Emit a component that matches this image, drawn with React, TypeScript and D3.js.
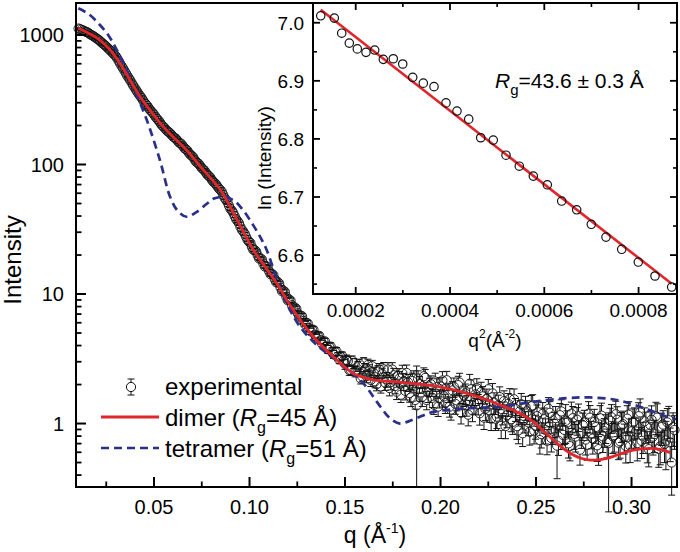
import React from 'react';
import * as d3 from 'd3';

// ---------- main plot data (two interleaved q grids) ----------
const Q_START = 0.0105;
const Q_STEP = 0.0015;
// intensities at q = Q_START + i*Q_STEP
const EXP_I_A = [
  1122, 1098, 1072, 1051, 1014, 985, 951, 918, 876, 841,
  801, 763, 722, 687, 631, 577, 531, 485, 448, 410,
  379, 350, 327, 301, 284, 263, 249, 231, 218, 202,
  192, 181, 174, 164, 158, 148, 143, 133, 128, 119,
  114, 105, 101, 93.8, 89.6, 83.1, 79.4, 73.6, 70.3, 65.2,
  61.6, 55.1, 51.0, 45.4, 42.3, 37.8, 35.2, 31.3, 29.2, 26.1,
  24.8, 21.9, 21.3, 18.8, 18.5, 16.3, 16.1, 14.2, 14.0, 12.3,
  12.1, 10.5, 10.4, 8.95, 8.91, 7.72, 7.70, 6.71, 6.75, 5.86,
  5.92, 5.15, 5.30, 4.62, 4.76, 4.14, 4.31, 3.74, 3.93, 3.42,
  3.61, 3.12, 3.33, 2.88, 3.03, 2.59, 2.92, 2.55, 2.88, 2.31,
  2.62, 2.83, 2.17, 2.45, 2.01, 2.62, 2.41, 2.07, 2.61, 2.09,
  2.36, 1.76, 2.23, 2.45, 1.79, 2.08, 1.59, 2.22, 1.38, 2.01,
  1.61, 2.25, 1.73, 2.01, 1.40, 1.91, 1.57, 2.15, 1.44, 1.75,
  1.28, 1.92, 1.51, 2.07, 1.38, 1.71, 1.17, 1.84, 1.44, 1.88,
  1.20, 1.62, 1.30, 1.84, 1.09, 1.45, 1.13, 1.60, 1.22, 0.955,
  1.42, 1.08, 1.54, 0.955, 1.24, 0.841, 1.34, 1.02, 1.36, 0.881,
  1.14, 0.745, 1.19, 0.891, 1.30, 0.773, 1.00, 0.675, 1.16, 0.818,
  1.05, 0.703, 1.19, 0.832, 1.07, 0.628, 0.971, 0.752, 1.19, 0.839,
  1.03, 0.679, 1.10, 0.796, 0.935, 0.708, 1.12, 0.813, 1.07, 0.730,
  0.989, 0.670, 1.17, 0.871, 1.04, 0.705, 1.22, 0.805, 0.964, 0.634,
  1.07, 0.828, 1.11, 0.667, 0.982, 0.740, 1.06, 0.50, 0.891,
];
// intensities at q = Q_START + (i + 0.5)*Q_STEP
const EXP_I_B = [
  1109, 1085, 1060, 1034, 998, 969, 933, 898, 857, 822,
  781, 743, 705, 659, 603, 554, 508, 466, 429, 394,
  364, 338, 313, 292, 273, 256, 240, 224, 210, 197,
  186, 178, 169, 161, 153, 146, 138, 131, 123, 117,
  109, 103, 97.2, 91.9, 86.1, 81.5, 76.2, 72.1, 67.5, 63.6,
  58.2, 53.3, 48.0, 44.1, 39.9, 36.6, 33.0, 30.4, 27.6, 25.3,
  23.1, 21.8, 19.9, 18.8, 17.2, 16.4, 15.0, 14.3, 13.0, 12.4,
  11.2, 10.6, 9.55, 9.05, 8.20, 7.85, 7.10, 6.80, 6.20, 6.00,
  5.45, 5.30, 4.85, 4.75, 4.40, 4.30, 3.95, 3.90, 3.60, 3.58,
  3.30, 3.28, 3.05, 3.10,
  2.59, 3.05, 2.52, 2.77, 2.22, 2.96, 2.32, 2.56, 2.77, 2.12,
  2.52, 1.93, 2.62, 2.19, 1.88, 2.61, 1.95, 2.35, 1.67, 2.12,
  2.46, 1.72, 2.13, 1.52, 2.22, 1.74, 2.32, 1.52, 1.93, 1.58,
  2.11, 1.35, 1.93, 1.62, 2.16, 1.35, 1.80, 1.42, 1.98, 1.21,
  1.65, 1.39, 2.03, 1.26, 1.68, 1.42, 1.75, 1.11, 1.55, 1.26,
  1.71, 1.09, 1.38, 0.957, 1.49, 1.16, 1.55, 1.03, 1.30, 0.883,
  1.41, 1.07, 1.24, 0.863, 1.38, 0.958, 1.22, 0.830, 1.08, 0.736,
  1.21, 0.881, 1.10, 0.737, 1.24, 0.894, 1.02, 0.669, 1.10, 0.793,
  1.14, 0.846, 1.02, 0.685, 1.11, 0.765, 0.939, 0.634, 1.15, 0.873,
  0.725, 1.05, 0.794, 1.18, 0.711, 0.964, 0.786, 1.09, 0.675, 1.02,
  0.868, 1.14, 0.735, 1.04, 0.681, 0.979, 0.793, 1.14, 0.638, 0.940,
  0.693, 1.02, 0.715, 0.937,
];
// relative error per 0.01 bin of q (bin 0 = 0.01..0.02)
const ERR_REL = [
  0.012, 0.012, 0.013, 0.014, 0.015, 0.016, 0.018, 0.02, 0.025, 0.03,
  0.035, 0.045, 0.055, 0.07, 0.09, 0.11, 0.13, 0.15, 0.16, 0.17,
  0.18, 0.19, 0.2, 0.21, 0.22, 0.23, 0.24, 0.25, 0.26, 0.27, 0.28, 0.29, 0.3,
];
// [index in EXP_I_A, absolute error]
const ERR_OVERRIDE: [number, number][] = [
  [118, 1.4], [185, 0.5], [167, 0.3], [170, 0.35], [205, 0.3], [207, 0.22],
];

const DIMER_Q = [
  0.0104, 0.016, 0.0217, 0.027, 0.0322, 0.0375, 0.0427, 0.0487, 0.0548, 0.061,
  0.0671, 0.0757, 0.0846, 0.093, 0.102, 0.108, 0.1142, 0.1229, 0.1334, 0.1439,
  0.1543, 0.1648, 0.1771, 0.1888, 0.1997, 0.2137, 0.223, 0.2312, 0.24, 0.2486,
  0.254, 0.2591, 0.2645, 0.2695, 0.274, 0.2783, 0.283, 0.287, 0.294, 0.3009,
  0.3097, 0.315, 0.3202,
];
const DIMER_I = [
  1127, 1028, 914, 767, 604, 447, 334, 254, 196, 158,
  129, 91.2, 64.1, 38.5, 21.9, 16.4, 12.1, 7.52, 4.68, 3.28,
  2.44, 2.17, 2.10, 2.02, 1.92, 1.71, 1.55, 1.39, 1.23, 1.035,
  0.871, 0.746, 0.638, 0.571, 0.537, 0.522, 0.525, 0.538, 0.582, 0.624,
  0.644, 0.631, 0.596,
];
const TETRA_Q = [
  0.0104, 0.016, 0.0217, 0.026, 0.0296, 0.035, 0.0392, 0.0462, 0.0531, 0.0584,
  0.0625, 0.0671, 0.072, 0.0775, 0.081, 0.0865, 0.092, 0.097, 0.102, 0.106,
  0.109, 0.114, 0.1195, 0.1264, 0.1352, 0.1474, 0.1596, 0.1648, 0.169, 0.1735,
  0.1788, 0.183, 0.1875, 0.1961, 0.2137, 0.2312, 0.2484, 0.2661, 0.2783, 0.2923,
  0.3044, 0.3184, 0.3237,
];
const TETRA_I = [
  1607, 1445, 1194, 1000, 813, 562, 398, 221, 108, 56.4,
  43.7, 39.5, 42.7, 49.5, 54.3, 56.2, 52.5, 43.7, 33.9, 26.9,
  21.9, 13.5, 8.47, 5.60, 4.04, 2.92, 2.04, 1.61, 1.32, 1.10,
  1.00, 1.035, 1.10, 1.23, 1.31, 1.35, 1.47, 1.57, 1.59, 1.52,
  1.35, 1.13, 1.08,
];
const X_TICKS = [0.05, 0.1, 0.15, 0.2, 0.25, 0.3];
const X_MINOR = [0.025, 0.075, 0.125, 0.175, 0.225, 0.275];
const Y_TICKS = [1, 10, 100, 1000];

// ---------- inset (Guinier) data ----------
const G_Q2 = [
  0.0001258, 0.0001546, 0.0001703, 0.0001864, 0.0002034, 0.0002218, 0.0002403, 0.0002585, 0.0002797, 0.0002997,
  0.0003209, 0.0003434, 0.0003661, 0.0003915, 0.0004148, 0.0004397, 0.0004651, 0.0004918, 0.0005188, 0.000547,
  0.0005767, 0.0006064, 0.0006369, 0.0006687, 0.0006997, 0.0007309, 0.0007642, 0.0007994, 0.0008348, 0.0008702,
];
const G_LN = [
  7.012, 7.008, 6.982, 6.965, 6.955, 6.949, 6.953, 6.937, 6.938, 6.929,
  6.906, 6.896, 6.89, 6.862, 6.848, 6.834, 6.802, 6.798, 6.772, 6.753,
  6.736, 6.721, 6.693, 6.678, 6.653, 6.631, 6.61, 6.588, 6.564, 6.545,
];
const FIT_LN_I0 = 7.102;
const RG = 43.6;
const IX_TICKS = [0.0002, 0.0004, 0.0006, 0.0008];
const IX_LABELS = ['0.0002', '0.0004', '0.0006', '0.0008'];
const IX_MINOR = [0.0003, 0.0005, 0.0007];
const IY_TICKS = [6.6, 6.7, 6.8, 6.9, 7.0];
const IY_MINOR = [6.55, 6.65, 6.75, 6.85, 6.95];

const FONT = '"Liberation Sans", Arial, Helvetica, sans-serif';
const RED = '#e1262b';
const BLUE = '#2b2f8c';
const MARK = '#111';

export default function App() {
  // main plot frame
  const L = 76, R = 677, T = 3, B = 487;
  const x = d3.scaleLinear().domain([0.00916, 0.3238]).range([L, R]);
  const y = d3.scaleLog().domain([0.3236, 1766]).range([B, T]);

  // inset frame
  const iL = 313, iR = 677, iT = 3, iB = 294;
  const xi = d3.scaleLinear().domain([0.0001094, 0.0008815]).range([iL, iR]);
  const yi = d3.scaleLinear().domain([6.533, 7.034]).range([iB, iT]);

  const lineGen = d3
    .line<[number, number]>()
    .x((d) => x(d[0]))
    .y((d) => y(d[1]))
    .curve(d3.curveCatmullRom.alpha(0.5));

  const dimerPath = lineGen(DIMER_Q.map((q, i) => [q, DIMER_I[i]]) as [number, number][]) || '';
  const tetraPath = lineGen(TETRA_Q.map((q, i) => [q, TETRA_I[i]]) as [number, number][]) || '';

  const overrides = new Map(ERR_OVERRIDE);
  const relErr = (q: number) =>
    ERR_REL[Math.min(ERR_REL.length - 1, Math.max(0, Math.floor((q - 0.01) / 0.01)))];
  const points: { q: number; v: number; err: number }[] = [];
  EXP_I_A.forEach((v, i) => {
    const q = Q_START + i * Q_STEP;
    points.push({ q, v, err: overrides.has(i) ? (overrides.get(i) as number) : v * relErr(q) });
    if (i < EXP_I_B.length) {
      const q2 = Q_START + (i + 0.5) * Q_STEP;
      const v2 = EXP_I_B[i];
      points.push({ q: q2, v: v2, err: v2 * relErr(q2) });
    }
  });

  // log minor ticks
  const yMinor: number[] = [];
  [0.1, 1, 10, 100, 1000].forEach((d) => {
    for (let k = 2; k <= 9; k++) {
      const v = k * d;
      if (v > 0.3236 && v < 1766) yMinor.push(v);
    }
  });

  const capW = 3.5;
  const rM = 4.6;
  const fitX0 = G_Q2[0];
  const fitX1 = G_Q2[G_Q2.length - 1];
  const slope = -(RG * RG) / 3;

  return (
    <svg
      width={680}
      height={552}
      style={{ position: 'absolute', left: 0, top: 0, background: '#fff' }}
      fontFamily={FONT}
    >
      <rect x={0} y={0} width={680} height={552} fill="#fff" />

      {/* experimental data with error bars */}
      <g stroke={MARK} fill="none">
        {points.map((p, i) => {
          const cx = x(p.q);
          const cy = y(p.v);
          const lo = p.v - p.err;
          const yTop = y(p.v + p.err);
          const yBot = lo > 0 ? y(lo) : B;
          return (
            <g key={i}>
              {yTop < cy - rM && <line x1={cx} x2={cx} y1={yTop} y2={cy - rM} strokeWidth={1} />}
              {yBot > cy + rM && <line x1={cx} x2={cx} y1={cy + rM} y2={yBot} strokeWidth={1} />}
              <line x1={cx - capW} x2={cx + capW} y1={yTop} y2={yTop} strokeWidth={1} />
              {lo > 0 && <line x1={cx - capW} x2={cx + capW} y1={yBot} y2={yBot} strokeWidth={1} />}
              <circle cx={cx} cy={cy} r={rM} strokeWidth={0.9} />
            </g>
          );
        })}
      </g>

      {/* model curves */}
      <path d={tetraPath} fill="none" stroke={BLUE} strokeWidth={2.7} strokeDasharray="8,5" />
      <path d={dimerPath} fill="none" stroke={RED} strokeWidth={2.8} />

      {/* main frame */}
      <rect x={L} y={T} width={R - L} height={B - T} fill="none" stroke="#000" strokeWidth={2} />

      {/* y axis ticks */}
      {Y_TICKS.map((t) => (
        <g key={'yt' + t}>
          <line x1={L} x2={L + 10} y1={y(t)} y2={y(t)} stroke="#000" strokeWidth={2} />
          <text x={64} y={y(t) + 7} fontSize={20} textAnchor="end">
            {t}
          </text>
        </g>
      ))}
      {yMinor.map((t) => (
        <line key={'ym' + t} x1={L} x2={L + 5.5} y1={y(t)} y2={y(t)} stroke="#000" strokeWidth={1.8} />
      ))}

      {/* x axis ticks */}
      {X_TICKS.map((t) => (
        <g key={'xt' + t}>
          <line x1={x(t)} x2={x(t)} y1={B} y2={B - 10} stroke="#000" strokeWidth={2} />
          <text x={x(t)} y={514} fontSize={20} textAnchor="middle">
            {t.toFixed(2)}
          </text>
        </g>
      ))}
      {X_MINOR.map((t) => (
        <line key={'xm' + t} x1={x(t)} x2={x(t)} y1={B} y2={B - 5.5} stroke="#000" strokeWidth={1.8} />
      ))}

      {/* axis titles */}
      <text transform="translate(21,260) rotate(-90)" fontSize={24} textAnchor="middle">
        Intensity
      </text>
      <text x={375} y={543} fontSize={23} textAnchor="middle">
        q (Å<tspan fontSize={14} dy={-10}>-1</tspan>
        <tspan dy={10}>)</tspan>
      </text>

      {/* legend */}
      <g stroke={MARK} fill="none">
        <line x1={131} x2={131} y1={379} y2={382.4} strokeWidth={1} />
        <line x1={131} x2={131} y1={391.6} y2={395} strokeWidth={1} />
        <line x1={127.5} x2={134.5} y1={379} y2={379} strokeWidth={1} />
        <line x1={127.5} x2={134.5} y1={395} y2={395} strokeWidth={1} />
        <circle cx={131} cy={387} r={rM} strokeWidth={1} />
      </g>
      <text x={165} y={395} fontSize={24}>experimental</text>
      <line x1={101} x2={159} y1={417} y2={417} stroke={RED} strokeWidth={2.8} />
      <text x={165} y={426} fontSize={24}>
        dimer (<tspan fontStyle="italic">R</tspan>
        <tspan fontSize={16} dy={7}>g</tspan>
        <tspan dy={-7}>=45 Å)</tspan>
      </text>
      <line x1={101} x2={159} y1={448} y2={448} stroke={BLUE} strokeWidth={2.7} strokeDasharray="8,5" />
      <text x={165} y={457} fontSize={24}>
        tetramer (<tspan fontStyle="italic">R</tspan>
        <tspan fontSize={16} dy={7}>g</tspan>
        <tspan dy={-7}>=51 Å)</tspan>
      </text>

      {/* ---------- inset ---------- */}
      <rect x={iL} y={iT} width={iR - iL} height={iB - iT} fill="#fff" stroke="none" />
      <line
        x1={xi(fitX0)}
        x2={xi(fitX1)}
        y1={yi(FIT_LN_I0 + slope * fitX0)}
        y2={yi(FIT_LN_I0 + slope * fitX1)}
        stroke={RED}
        strokeWidth={2.6}
      />
      {G_Q2.map((q, i) => (
        <circle key={'g' + i} cx={xi(q)} cy={yi(G_LN[i])} r={4.2} fill="none" stroke="#111" strokeWidth={1.2} />
      ))}
      <rect x={iL} y={iT} width={iR - iL} height={iB - iT} fill="none" stroke="#000" strokeWidth={2} />
      {IY_TICKS.map((t) => (
        <g key={'iyt' + t}>
          <line x1={iL} x2={iL + 7} y1={yi(t)} y2={yi(t)} stroke="#000" strokeWidth={1.8} />
          <line x1={iR} x2={iR - 7} y1={yi(t)} y2={yi(t)} stroke="#000" strokeWidth={1.8} />
          <text x={304} y={yi(t) + 7} fontSize={19} textAnchor="end">
            {t.toFixed(1)}
          </text>
        </g>
      ))}
      {IY_MINOR.map((t) => (
        <g key={'iym' + t}>
          <line x1={iL} x2={iL + 4} y1={yi(t)} y2={yi(t)} stroke="#000" strokeWidth={1.6} />
          <line x1={iR} x2={iR - 4} y1={yi(t)} y2={yi(t)} stroke="#000" strokeWidth={1.6} />
        </g>
      ))}
      {IX_TICKS.map((t, i) => (
        <g key={'ixt' + t}>
          <line x1={xi(t)} x2={xi(t)} y1={iB} y2={iB - 7} stroke="#000" strokeWidth={1.8} />
          <line x1={xi(t)} x2={xi(t)} y1={iT} y2={iT + 7} stroke="#000" strokeWidth={1.8} />
          <text x={xi(t)} y={317} fontSize={19} textAnchor="middle">
            {IX_LABELS[i]}
          </text>
        </g>
      ))}
      {IX_MINOR.map((t) => (
        <g key={'ixm' + t}>
          <line x1={xi(t)} x2={xi(t)} y1={iB} y2={iB - 4} stroke="#000" strokeWidth={1.6} />
          <line x1={xi(t)} x2={xi(t)} y1={iT} y2={iT + 4} stroke="#000" strokeWidth={1.6} />
        </g>
      ))}
      <text transform="translate(271,158) rotate(-90)" fontSize={19} textAnchor="middle">
        ln (Intensity)
      </text>
      <text x={495} y={347} fontSize={19} textAnchor="middle">
        q<tspan fontSize={12} dy={-9}>2</tspan>
        <tspan dy={9}>(Å</tspan>
        <tspan fontSize={12} dy={-9}>-2</tspan>
        <tspan dy={9}>)</tspan>
      </text>
      <text x={495} y={88} fontSize={21}>
        <tspan fontStyle="italic">R</tspan>
        <tspan fontSize={15} dy={7}>g</tspan>
        <tspan dy={-7}>=43.6 ± 0.3 Å</tspan>
      </text>
    </svg>
  );
}
